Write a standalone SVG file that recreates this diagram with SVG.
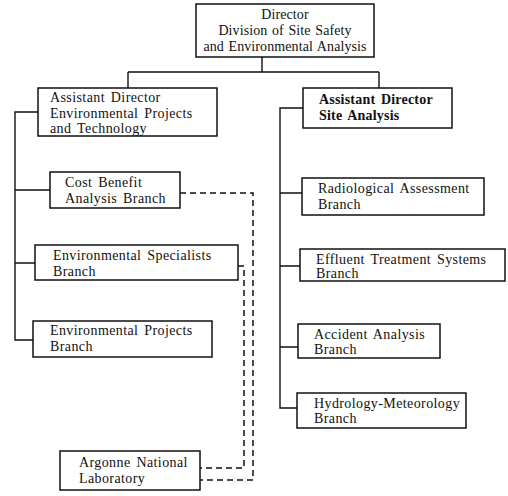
<svg xmlns="http://www.w3.org/2000/svg" width="508" height="496" viewBox="0 0 508 496">
  <style>
    .box { fill: #fff; stroke: #111; stroke-width: 1.5; }
    .ln { fill: none; stroke: #111; stroke-width: 1.4; }
    .dash { fill: none; stroke: #111; stroke-width: 1.5; stroke-dasharray: 6 4; }
    text { font-family: "Liberation Serif", "Times New Roman", serif; font-size: 14px; fill: #111; letter-spacing: 0.4px; word-spacing: 2px; }
    .t { letter-spacing: 0.1px; word-spacing: 1px; }
    .b { font-weight: bold; letter-spacing: 0.2px; }
  </style>
  <rect width="508" height="496" fill="#fff"/>

  <!-- connectors -->
  <g id="connectors">
    <!-- director to assistant directors -->
    <path class="ln" d="M262,57 V72 M128,72 H379 M128,72 V88 M379,72 V88"/>
    <!-- left spine -->
    <path class="ln" d="M38,112 H15 V340 H33 M15,190 H50 M15,263 H35"/>
    <!-- right spine -->
    <path class="ln" d="M303,108 H280 V408 H297 M280,193 H302 M280,266 H300 M280,347 H298"/>
    <!-- liaison lines to Argonne -->
    <path class="dash" d="M180,193 H253 V480 H200"/>
    <path class="dash" d="M238,266 H244 V468 H200"/>
  </g>

  <g id="director">
    <rect class="box" x="196" y="4" width="178" height="53"/>
    <text class="t" x="285" y="19" text-anchor="middle">Director</text>
    <text class="t" x="285" y="35" text-anchor="middle">Division of  Site Safety</text>
    <text class="t" x="285" y="51" text-anchor="middle">and Environmental  Analysis</text>
  </g>

  <g id="ad-env">
    <rect class="box" x="38" y="88" width="179" height="48"/>
    <text x="50" y="102">Assistant Director</text>
    <text x="50" y="118">Environmental  Projects</text>
    <text x="50" y="133">and Technology</text>
  </g>

  <g id="ad-site">
    <rect class="box" x="303" y="88" width="149" height="40"/>
    <text class="b" x="319" y="104">Assistant Director</text>
    <text class="b" x="319" y="120">Site Analysis</text>
  </g>

  <g id="cost-benefit">
    <rect class="box" x="50" y="172" width="130" height="36"/>
    <text x="65" y="187">Cost Benefit</text>
    <text x="65" y="203">Analysis Branch</text>
  </g>

  <g id="env-specialists">
    <rect class="box" x="35" y="245" width="203" height="35"/>
    <text x="53" y="260">Environmental  Specialists</text>
    <text x="53" y="276">Branch</text>
  </g>

  <g id="env-projects">
    <rect class="box" x="33" y="321" width="179" height="36"/>
    <text x="50" y="335">Environmental  Projects</text>
    <text x="50" y="351">Branch</text>
  </g>

  <g id="argonne">
    <rect class="box" x="60" y="451" width="140" height="39"/>
    <text x="79" y="467">Argonne National</text>
    <text x="79" y="483">Laboratory</text>
  </g>

  <g id="radiological">
    <rect class="box" x="302" y="178" width="182" height="37"/>
    <text x="318" y="193">Radiological  Assessment</text>
    <text x="318" y="209">Branch</text>
  </g>

  <g id="effluent">
    <rect class="box" x="300" y="249" width="205" height="32"/>
    <text x="316" y="264">Effluent Treatment Systems</text>
    <text x="316" y="278">Branch</text>
  </g>

  <g id="accident">
    <rect class="box" x="298" y="324" width="142" height="34"/>
    <text x="314" y="339">Accident Analysis</text>
    <text x="314" y="354">Branch</text>
  </g>

  <g id="hydrology">
    <rect class="box" x="297" y="393" width="169" height="35"/>
    <text x="314" y="408">Hydrology-Meteorology</text>
    <text x="314" y="423">Branch</text>
  </g>
</svg>
